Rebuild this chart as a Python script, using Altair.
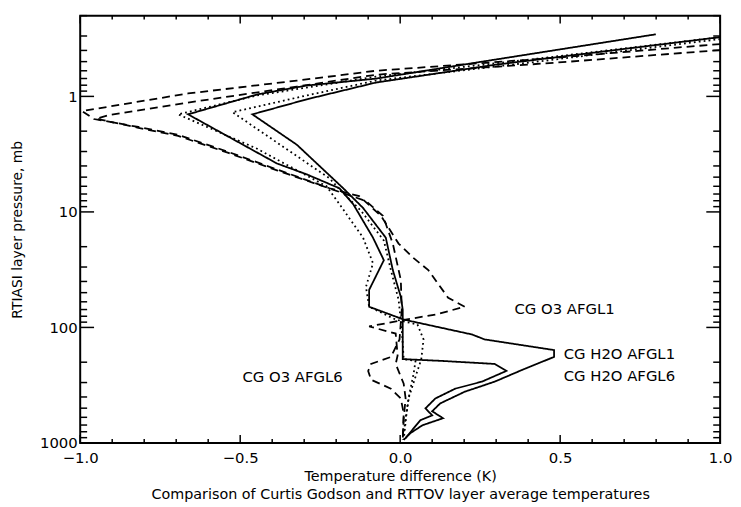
import altair as alt
import pandas as pd

# ---- curves: pressure (mb) and temperature difference (K) ----
h2o1_p = [0.290, 0.512, 0.702, 0.805, 0.962, 1.43, 3.81, 4.73, 6.24, 8.55, 16.7, 26.2, 47.3, 66.2,
          85.5, 115, 127, 157, 180, 229, 295, 360, 455, 532, 611, 702, 822, 942]
h2o1_t = [0.799, 0.233, -0.076, -0.292, -0.447, -0.663, -0.385, -0.292, -0.190, -0.147, -0.085, -0.051, -0.097, -0.097,
          0.011, 0.224, 0.264, 0.481, 0.481, 0.388, 0.295, 0.202, 0.125, 0.100, 0.134, 0.070, 0.032, 0.011]

h2o6_p = [0.307, 0.533, 0.759, 1.06, 1.43, 2.62, 6.24, 9.24, 16.7, 31.9, 54.3, 70.2, 188, 195, 207, 238,
          295, 339, 412, 502, 577, 636, 906]
h2o6_t = [1.0, 0.295, -0.076, -0.292, -0.462, -0.323, -0.178, -0.116, -0.045, -0.023, 0.002, 0.008, 0.008, 0.131, 0.295, 0.332,
          0.255, 0.172, 0.110, 0.079, 0.100, 0.063, 0.017]

dot1_p = [0.307, 0.464, 0.675, 0.838, 0.981, 1.43, 2.84, 3.52, 6.0, 8.55, 16.7, 27.8, 44.7, 66.2, 85.5, 94.3,
          127, 188, 267, 412, 611, 942]
dot1_t = [1.0, 0.450, -0.076, -0.292, -0.447, -0.694, -0.447, -0.385, -0.230, -0.190, -0.116, -0.085, -0.107, -0.097, -0.014, 0.054,
          0.073, 0.066, 0.048, 0.026, 0.017, 0.008]

dot6_p = [0.319, 0.492, 0.730, 0.981, 1.37, 2.62, 5.12, 6.6, 9.8, 17.7, 31.9, 57.6, 104, 188, 195, 252, 374, 554, 942]
dot6_t = [1.0, 0.450, -0.076, -0.292, -0.524, -0.375, -0.221, -0.184, -0.122, -0.051, -0.029, -0.005, 0.005, 0.011, 0.048,
          0.042, 0.029, 0.020, 0.011]

o3a_p = [0.352, 0.464, 0.600, 0.730, 0.943, 1.34, 1.57, 1.84, 2.15, 3.01, 4.29, 6.24, 7.3, 10.8, 18.8, 24.7, 31.9,
         55.4, 66.2, 77.4, 85.5, 98, 113, 175, 207, 307, 412, 611, 942]
o3a_t = [1.0, 0.481, -0.076, -0.323, -0.663, -0.994, -0.957, -0.818, -0.694, -0.539, -0.385, -0.221, -0.128, -0.060, -0.005,
         0.039, 0.088, 0.150, 0.202, 0.110, 0.017, -0.097, -0.014, -0.008, -0.014, 0.011, 0.017, 0.011, 0.008]

o3b_p = [0.397, 0.512, 0.649, 0.822, 1.13, 1.45, 1.56, 1.87, 2.2, 3.07, 4.37, 6.35, 8.05, 10.8, 18.8, 38.9, 70.2,
         127, 180, 207, 238, 284, 339, 412, 554, 942]
o3b_t = [1.0, 0.481, -0.076, -0.323, -0.663, -0.910, -0.950, -0.818, -0.694, -0.539, -0.385, -0.215, -0.107, -0.054, -0.023,
         0.002, 0.005, -0.002, -0.029, -0.091, -0.100, -0.091, -0.029, 0.002, 0.011, 0.008]

curves = [
    ("CG H2O AFGL1", "solid", h2o1_p, h2o1_t),
    ("CG H2O AFGL6", "solid", h2o6_p, h2o6_t),
    ("dotted AFGL1", "dotted", dot1_p, dot1_t),
    ("dotted AFGL6", "dotted", dot6_p, dot6_t),
    ("CG O3 AFGL1", "dashed", o3a_p, o3a_t),
    ("CG O3 AFGL6", "dashed", o3b_p, o3b_t),
]

label_text = ["CG O3 AFGL1", "CG H2O AFGL1", "CG H2O AFGL6", "CG O3 AFGL6"]
label_t = [0.357, 0.511, 0.511, -0.493]
label_p = [70, 170, 262, 267]

x_major = [-1.0, -0.5, 0.0, 0.5, 1.0]
x_minor = [-0.9, -0.8, -0.7, -0.6, -0.4, -0.3, -0.2, -0.1, 0.1, 0.2, 0.3, 0.4, 0.6, 0.7, 0.8, 0.9]
y_major = [1, 10, 100, 1000]
y_minor = [m * 10 ** e for e in (-1, 0, 1, 2) for m in range(2, 10) if 0.2 <= m * 10 ** e < 1000]

rows = []
for name, style, ps, ts in curves:
    for i, (p, t) in enumerate(zip(ps, ts)):
        rows.append({"series": name, "style": style, "i": i, "p": p, "t": t})
df = pd.DataFrame(rows)

W, H = 647, 432
FONT = "DejaVu Sans"
xs = alt.Scale(domain=[-1, 1], nice=False, zero=False)
ys = alt.Scale(type="log", domain=[0.2, 1000], reverse=True, nice=False)

ax_x = alt.Axis(
    values=x_major, format=".1f", ticks=False, domain=False, grid=False,
    labelPadding=8, labelFontSize=15, labelFont=FONT, labelColor="black",
    labelFlush=False, labelOverlap=False,
    title=["Temperature difference (K)",
           "Comparison of Curtis Godson and RTTOV layer average temperatures"],
    titleFont=FONT, titleFontSize=14.5, titleFontWeight="normal", titleColor="black",
    titleX=W / 2, titleY=38, titleAlign="center", titleBaseline="alphabetic",
    titleLineHeight=18)
ax_y = alt.Axis(
    values=y_major, format="d", ticks=False, domain=False, grid=False,
    labelPadding=3, labelFontSize=15, labelFont=FONT, labelColor="black",
    labelFlush=False, labelOverlap=False,
    title="RTIASI layer pressure, mb", titleFont=FONT, titleFontSize=14,
    titleFontWeight="normal", titleColor="black", titleAngle=270,
    titleX=-63, titleY=H / 2, titleAlign="center", titleBaseline="middle")

lines = alt.Chart(df).mark_line(color="black", strokeWidth=1.8, clip=True).encode(
    x=alt.X("t:Q", scale=xs, axis=ax_x),
    y=alt.Y("p:Q", scale=ys, axis=ax_y),
    detail="series:N",
    strokeDash=alt.StrokeDash("style:N", scale=alt.Scale(
        domain=["solid", "dotted", "dashed"], range=[[1, 0], [1.8, 3.2], [8, 5]]), legend=None),
    order="i:Q",
)

labels = alt.Chart(pd.DataFrame({"text": label_text, "t": label_t, "p": label_p})).mark_text(
    align="left", baseline="middle", font=FONT, fontSize=15, color="black"
).encode(
    x=alt.X("t:Q", scale=xs, axis=ax_x),
    y=alt.Y("p:Q", scale=ys, axis=ax_y),
    text="text:N",
)


def xticks(vals, length):
    base = alt.Chart(pd.DataFrame({"t": vals})).mark_rule(color="black", strokeWidth=1.5)
    bot = base.encode(x=alt.X("t:Q", scale=xs, axis=ax_x), y=alt.value(H), y2=alt.value(H - length))
    top = base.encode(x=alt.X("t:Q", scale=xs, axis=ax_x), y=alt.value(0), y2=alt.value(length))
    return [bot, top]


def yticks(vals, length):
    base = alt.Chart(pd.DataFrame({"p": vals})).mark_rule(color="black", strokeWidth=1.5)
    left = base.encode(y=alt.Y("p:Q", scale=ys, axis=ax_y), x=alt.value(0), x2=alt.value(length))
    right = base.encode(y=alt.Y("p:Q", scale=ys, axis=ax_y), x=alt.value(W), x2=alt.value(W - length))
    return [left, right]


layers = [lines, labels] + xticks(x_major, 8) + xticks(x_minor, 4) + yticks(y_major, 14) + yticks(y_minor, 7)

chart = alt.layer(*layers).properties(
    width=W, height=H,
    autosize=alt.AutoSizeParams(type="none"),
    padding={"left": 73, "top": 5, "right": 13, "bottom": 60},
    background="white",
).configure_view(stroke="black", strokeWidth=2)

chart.save("out.html", embed_options={"renderer": "svg", "actions": False})
